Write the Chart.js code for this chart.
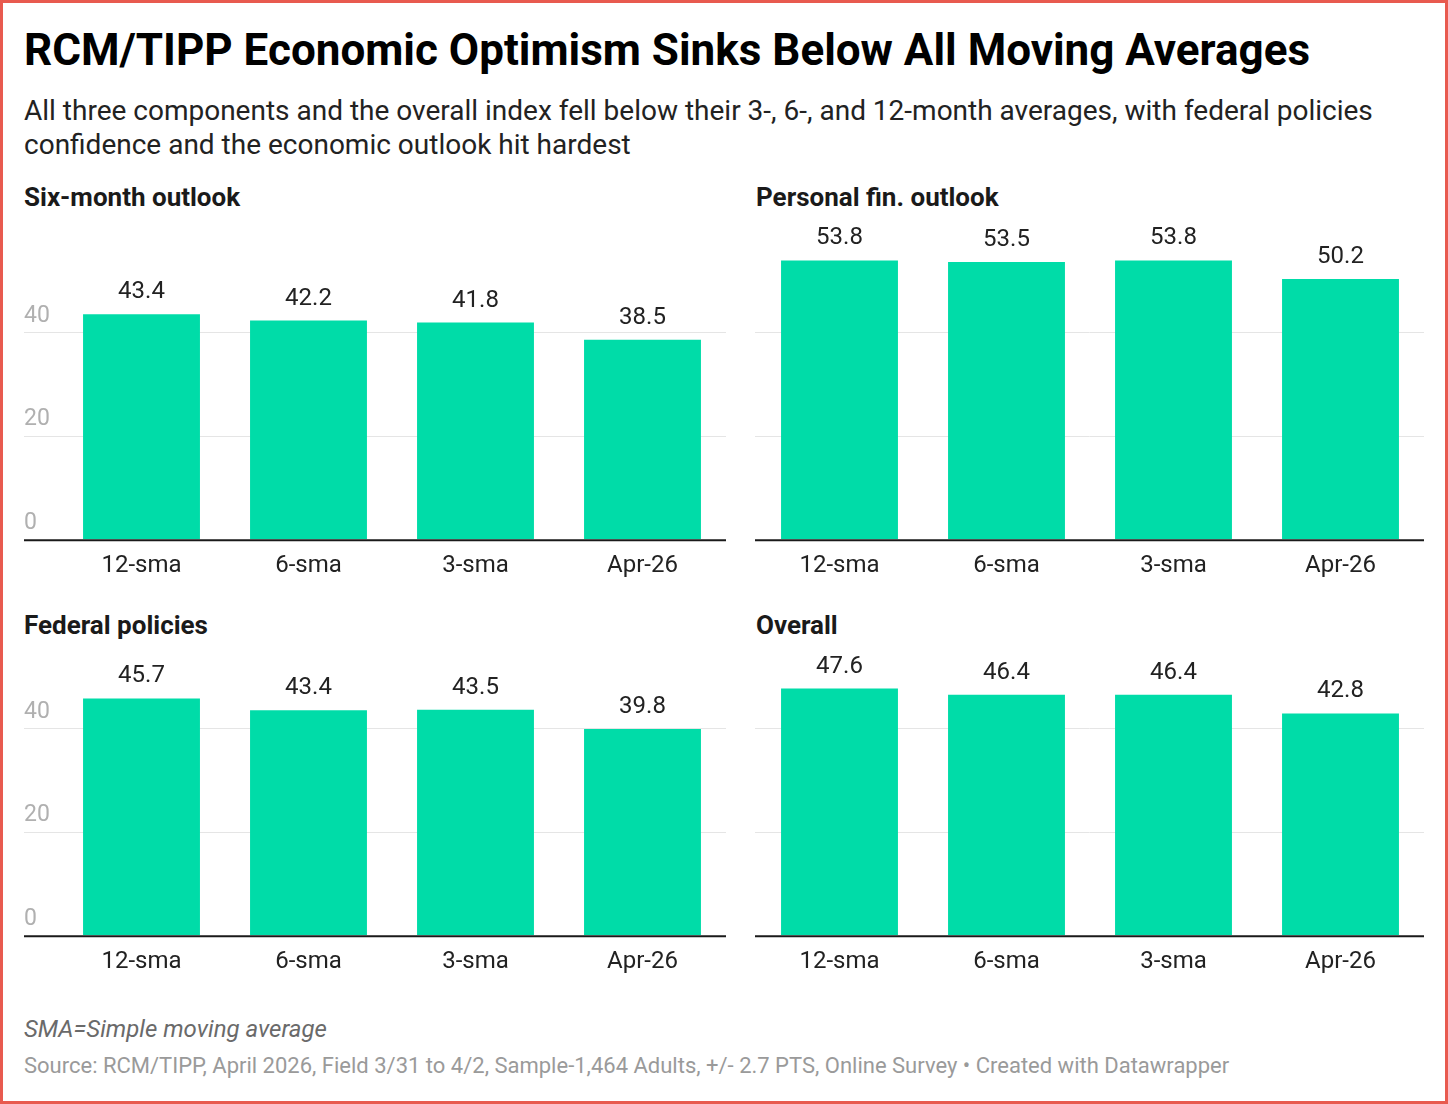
<!DOCTYPE html>
<html>
<head>
<meta charset="utf-8">
<script src="https://cdn.jsdelivr.net/npm/chart.js@4.4.1/dist/chart.umd.min.js"></script>
<style>
  html, body { margin: 0; padding: 0; background: #fff; }
  body { width: 1448px; height: 1104px; position: relative; overflow: hidden; font-family: Roboto, "Noto Sans", sans-serif; }
  .frame { position: absolute; left: 0; top: 0; width: 1442px; height: 1098px; border: 3px solid #e85a4f; pointer-events: none; z-index: 5; }
  .title { position: absolute; left: 24px; top: 22px; margin: 0; font-size: 44px; font-weight: 700; color: #000; line-height: 56px; white-space: nowrap; }
  .subtitle { position: absolute; left: 24px; top: 94px; margin: 0; font-size: 28px; color: #222; line-height: 34px; width: 1400px; }
  .panel-title { position: absolute; margin: 0; font-size: 26px; font-weight: 700; color: #1a1a1a; line-height: 30px; z-index: 2; }
  .box { position: absolute; }
  .note { position: absolute; left: 24px; top: 1015px; font-size: 24px; font-style: italic; color: #6a6a6a; }
  .source { position: absolute; left: 24px; top: 1053px; font-size: 22px; color: #9a9a9a; white-space: nowrap; }
</style>
</head>
<body>
<div class="frame"></div>
<h1 class="title">RCM/TIPP Economic Optimism Sinks Below All Moving Averages</h1>
<p class="subtitle">All three components and the overall index fell below their 3-, 6-, and 12-month averages, with federal policies confidence and the economic outlook hit hardest</p>

<div class="panel-title" style="left:24px; top:182px;">Six-month outlook</div>
<div class="panel-title" style="left:756px; top:182px;">Personal fin. outlook</div>
<div class="panel-title" style="left:24px; top:610px;">Federal policies</div>
<div class="panel-title" style="left:756px; top:610px;">Overall</div>

<div class="box" style="left:24px; top:220px; width:703px; height:376px;"><canvas id="c1"></canvas></div>
<div class="box" style="left:755px; top:220px; width:669px; height:376px;"><canvas id="c2"></canvas></div>
<div class="box" style="left:24px; top:640px; width:703px; height:352px;"><canvas id="c3"></canvas></div>
<div class="box" style="left:755px; top:640px; width:669px; height:352px;"><canvas id="c4"></canvas></div>

<div class="note">SMA=Simple moving average</div>
<div class="source">Source: RCM/TIPP, April 2026, Field 3/31 to 4/2, Sample-1,464 Adults, +/- 2.7 PTS, Online Survey • Created with Datawrapper</div>

<script>
// categories and values
const categories = ['12-sma', '6-sma', '3-sma', 'Apr-26'];
const sixMonthOutlook = [43.4, 42.2, 41.8, 38.5];
const personalFinOutlook = [53.8, 53.5, 53.8, 50.2];
const federalPolicies = [45.7, 43.4, 43.5, 39.8];
const overallIndex = [47.6, 46.4, 46.4, 42.8];
const yTicks = [0, 20, 40];

const BAR_COLOR = '#00dca8';
const FONT = 'Roboto, "Noto Sans", sans-serif';

// gridlines, y labels (above the lines), baseline and value labels
const decorPlugin = {
    id: 'decor',
    beforeDatasetsDraw(chart, args, opts) {
        const ctx = chart.ctx;
        const y = chart.scales.y;
        const area = chart.chartArea;
        ctx.save();
        ctx.strokeStyle = '#e5e5e5';
        ctx.lineWidth = 1;
        for (const t of yTicks) {
            if (t === 0) continue;
            const py = Math.round(y.getPixelForValue(t)) + 0.5;
            ctx.beginPath();
            ctx.moveTo(0, py);
            ctx.lineTo(area.right, py);
            ctx.stroke();
        }
        if (opts.showLabels) {
            ctx.fillStyle = '#b0b0b0';
            ctx.font = '23px ' + FONT;
            ctx.textAlign = 'left';
            ctx.textBaseline = 'middle';
            for (const t of yTicks) {
                ctx.fillText(String(t), 0, y.getPixelForValue(t) - 16);
            }
        }
        ctx.restore();
    },
    afterDatasetsDraw(chart) {
        const ctx = chart.ctx;
        const y = chart.scales.y;
        const area = chart.chartArea;
        ctx.save();
        // baseline
        ctx.strokeStyle = '#1a1a1a';
        ctx.lineWidth = 2;
        const by = y.getPixelForValue(0) + 1;
        ctx.beginPath();
        ctx.moveTo(0, by);
        ctx.lineTo(area.right, by);
        ctx.stroke();
        // values
        const meta = chart.getDatasetMeta(0);
        const data = chart.data.datasets[0].data;
        ctx.fillStyle = '#222';
        ctx.font = '24px ' + FONT;
        ctx.textAlign = 'center';
        ctx.textBaseline = 'middle';
        meta.data.forEach((bar, i) => {
            ctx.fillText(data[i].toFixed(1), bar.x, bar.y - 22);
        });
        ctx.restore();
    }
};

function makeChart(id, values, yMax, pad, showLabels) {
    return new Chart(document.getElementById(id), {
        type: 'bar',
        data: {
            labels: categories,
            datasets: [{
                data: values,
                backgroundColor: BAR_COLOR,
                borderWidth: 0,
                barPercentage: 0.7,
                categoryPercentage: 1.0,
            }]
        },
        options: {
            responsive: true,
            maintainAspectRatio: false,
            animation: false,
            layout: { padding: pad },
            plugins: {
                legend: { display: false },
                tooltip: { enabled: false },
                decor: { showLabels },
            },
            scales: {
                x: {
                    grid: { display: false, drawTicks: false },
                    border: { display: false },
                    ticks: {
                        color: '#222',
                        font: { family: FONT, size: 24 },
                        padding: 12,
                        maxRotation: 0,
                    }
                },
                y: {
                    display: false,
                    min: 0,
                    max: yMax,
                }
            }
        },
        plugins: [decorPlugin]
    });
}

makeChart('c1', sixMonthOutlook, 56, { top: 29, left: 34, right: 1, bottom: 4 }, true);
makeChart('c2', personalFinOutlook, 56, { top: 29, left: 1, right: 0, bottom: 4 }, false);
makeChart('c3', federalPolicies, 56, { top: 5, left: 34, right: 1, bottom: 4 }, true);
makeChart('c4', overallIndex, 56, { top: 5, left: 1, right: 0, bottom: 4 }, false);
</script>
</body>
</html>
